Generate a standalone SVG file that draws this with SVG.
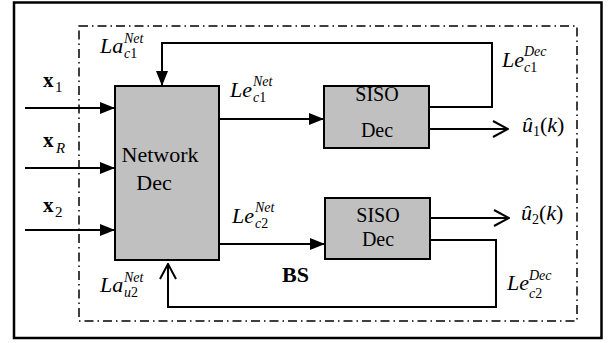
<svg xmlns="http://www.w3.org/2000/svg" width="610" height="343" viewBox="0 0 610 343">
<style>
  .ln{fill:none;stroke:#000;stroke-width:2}
  .box{fill:#c0c0c0;stroke:#000;stroke-width:2}
  .t{font-family:"Liberation Serif","Times New Roman",serif;fill:#000}
  .lb{font-size:22px;font-style:italic}
  .sm{font-size:14px}
  .it{font-style:italic}
  .up{font-style:normal}
</style>
<defs>
  <marker id="fa" viewBox="0 0 15 12" refX="15" refY="6" markerUnits="userSpaceOnUse" markerWidth="15" markerHeight="12" orient="auto">
    <path d="M0,0 L15,6 L0,12 z" fill="#000"/>
  </marker>
  <marker id="oa" viewBox="-1 -1 17 18" refX="15" refY="8" markerUnits="userSpaceOnUse" markerWidth="17" markerHeight="18" orient="auto">
    <path d="M0,0 L15,8 L0,16" fill="none" stroke="#000" stroke-width="2"/>
  </marker>
</defs>
<rect x="0" y="0" width="610" height="343" fill="#fff"/>
<rect id="outer" x="14" y="2.5" width="587.5" height="335.5" fill="none" stroke="#000" stroke-width="2.5"/>
<rect id="bs" x="79" y="26" width="498" height="295" fill="none" stroke="#000" stroke-width="1.5" stroke-dasharray="9 4 1.5 4"/>

<g id="connectors">
  <line class="ln" x1="25" y1="108" x2="115" y2="108" marker-end="url(#fa)"/>
  <line class="ln" x1="25" y1="168" x2="115" y2="168" marker-end="url(#fa)"/>
  <line class="ln" x1="25" y1="230" x2="115" y2="230" marker-end="url(#fa)"/>
  <line class="ln" x1="219" y1="119" x2="324" y2="119" marker-end="url(#fa)"/>
  <line class="ln" x1="219" y1="244" x2="325" y2="244" marker-end="url(#fa)"/>
  <polyline class="ln" points="427,107 492,107 492,43 162,43 162,86" marker-end="url(#fa)"/>
  <line class="ln" x1="429" y1="129" x2="508" y2="129" marker-end="url(#oa)"/>
  <line class="ln" x1="430" y1="218" x2="509" y2="218" marker-end="url(#oa)"/>
  <polyline class="ln" points="430,240 496,240 496,307 168,307 168,264" marker-end="url(#oa)"/>
</g>

<g id="network">
  <rect class="box" x="115" y="86" width="104" height="174"/>
  <text class="t" x="160" y="162" font-size="22" text-anchor="middle">Network</text>
  <text class="t" x="154" y="190" font-size="22" text-anchor="middle">Dec</text>
</g>
<g id="siso1">
  <rect class="box" x="324" y="86" width="105" height="62"/>
  <text class="t" x="377" y="101" font-size="20" text-anchor="middle">SISO</text>
  <text class="t" x="377" y="137" font-size="20" text-anchor="middle">Dec</text>
</g>
<g id="siso2">
  <rect class="box" x="325" y="198" width="105" height="61"/>
  <text class="t" x="378" y="222" font-size="20" text-anchor="middle">SISO</text>
  <text class="t" x="378" y="246" font-size="20" text-anchor="middle">Dec</text>
</g>

<g id="labels">
  <text class="t" font-size="21" font-weight="bold" x="43" y="87">x<tspan x="55" y="92" font-size="15" font-weight="normal">1</tspan></text>
  <text class="t" font-size="21" font-weight="bold" x="43" y="147">x<tspan x="56" y="153" font-size="15" font-weight="normal" font-style="italic">R</tspan></text>
  <text class="t" font-size="21" font-weight="bold" x="43" y="212">x<tspan x="55" y="217" font-size="15" font-weight="normal">2</tspan></text>

  <text class="t lb" x="100" y="53">La<tspan class="sm" x="124" y="43">Net</tspan><tspan class="sm" x="124" y="58">c</tspan><tspan class="sm up">1</tspan></text>
  <text class="t lb" x="230" y="97">Le<tspan class="sm" x="253" y="86">Net</tspan><tspan class="sm" x="253" y="102">c</tspan><tspan class="sm up">1</tspan></text>
  <text class="t lb" x="502" y="67">Le<tspan class="sm" x="524" y="56">Dec</tspan><tspan class="sm" x="524" y="72">c</tspan><tspan class="sm up">1</tspan></text>
  <text class="t lb" x="232" y="223">Le<tspan class="sm" x="255" y="212">Net</tspan><tspan class="sm" x="255" y="228">c</tspan><tspan class="sm up">2</tspan></text>
  <text class="t lb" x="100" y="292">La<tspan class="sm" x="124" y="282">Net</tspan><tspan class="sm" x="124" y="297">u</tspan><tspan class="sm up">2</tspan></text>
  <text class="t lb" x="507" y="290">Le<tspan class="sm" x="529" y="280">Dec</tspan><tspan class="sm" x="529" y="298">c</tspan><tspan class="sm up">2</tspan></text>

  <text class="t lb" x="522" y="132">û<tspan class="sm up" y="136">1</tspan><tspan class="up" y="132">(</tspan><tspan>k</tspan><tspan class="up">)</tspan></text>
  <text class="t lb" x="521" y="220">û<tspan class="sm up" y="224">2</tspan><tspan class="up" y="220">(</tspan><tspan>k</tspan><tspan class="up">)</tspan></text>

  <text class="t" x="282" y="282" font-size="22" font-weight="bold">BS</text>
</g>
</svg>
